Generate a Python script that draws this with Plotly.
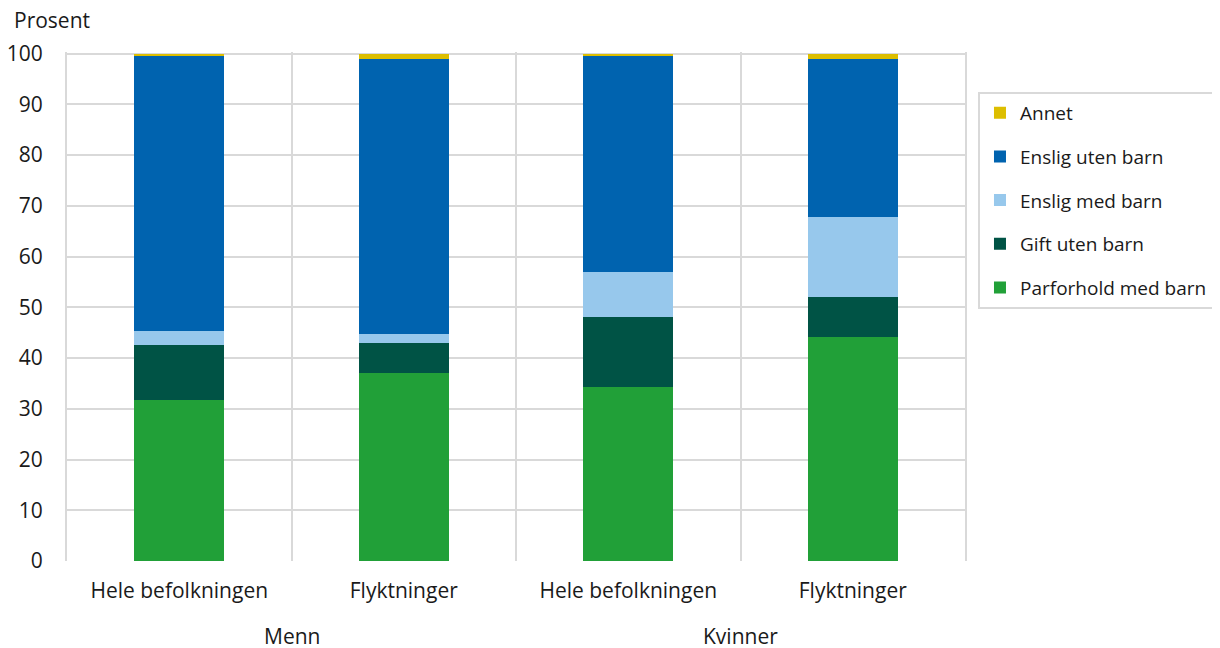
import plotly.graph_objects as go

categories = ["Hele befolkningen", "Flyktninger", "Hele befolkningen", "Flyktninger"]
groups = ["Menn", "Kvinner"]
series_names = ["Parforhold med barn", "Gift uten barn", "Enslig med barn", "Enslig uten barn", "Annet"]
parforhold_med_barn = [31.7, 37.0, 34.2, 44.1]
gift_uten_barn = [10.9, 6.0, 13.8, 8.0]
enslig_med_barn = [2.7, 1.7, 9.0, 15.7]
enslig_uten_barn = [54.4, 54.3, 42.7, 31.2]
annet = [0.3, 1.0, 0.3, 1.0]
yticks = [0, 10, 20, 30, 40, 50, 60, 70, 80, 90, 100]

values = [parforhold_med_barn, gift_uten_barn, enslig_med_barn, enslig_uten_barn, annet]
colors = ["#21A038", "#005345", "#97C8EC", "#0063AF", "#DDBE00"]

FONT = "Open Sans, Noto Sans, sans-serif"
FS = 21
GRID = "#D9D9D9"
xpos = list(range(len(categories)))

fig = go.Figure()
n = len(series_names)
for i, (name, vals, col) in enumerate(zip(series_names, values, colors)):
    fig.add_trace(go.Bar(
        x=xpos, y=vals, name=name, marker=dict(color=col, line=dict(width=0)),
        width=0.4, legendgroup=name, legendrank=n - i,
    ))

fig.update_layout(
    barmode="stack",
    width=1214, height=640,
    margin=dict(l=59, r=257, t=44, b=87),
    plot_bgcolor="white", paper_bgcolor="white",
    font=dict(family=FONT, size=FS, color="#1a1a1a"),
    showlegend=True,
    legend=dict(
        xref="container", yref="container",
        x=0.799, y=0.869, xanchor="left", yanchor="top",
        traceorder="grouped", tracegroupgap=16,
        bordercolor=GRID, borderwidth=2,
        font=dict(family=FONT, size=19, color="#1a1a1a"),
        itemwidth=30,
    ),
    xaxis=dict(
        range=[-0.5, 3.5], tickvals=xpos, ticktext=categories,
        showgrid=False, zeroline=False, showline=False, ticks="",
        minor=dict(tick0=0.5, dtick=1, showgrid=True, gridcolor=GRID, gridwidth=2, ticks=""),
        tickfont=dict(size=FS), ticklabelstandoff=15, automargin=False,
    ),
    yaxis=dict(
        range=[0, 100.3], tickvals=yticks, showgrid=True, gridcolor=GRID, gridwidth=2,
        zeroline=False, showline=True, linecolor=GRID, linewidth=2, mirror=True,
        ticks="", ticklabelstandoff=18, automargin=False,
        tickfont=dict(size=FS),
    ),
    bargap=0,
)

# group labels
for gi, g in enumerate(groups):
    fig.add_annotation(x=gi * 2 + 0.5, y=-0.147, xref="x", yref="paper", text=g,
                       showarrow=False, font=dict(size=FS), yanchor="middle")

fig.add_annotation(x=-0.061, y=1.063, xref="paper", yref="paper", text="Prosent",
                   showarrow=False, xanchor="left", yanchor="middle", font=dict(size=FS))

fig.write_html("out.html")
